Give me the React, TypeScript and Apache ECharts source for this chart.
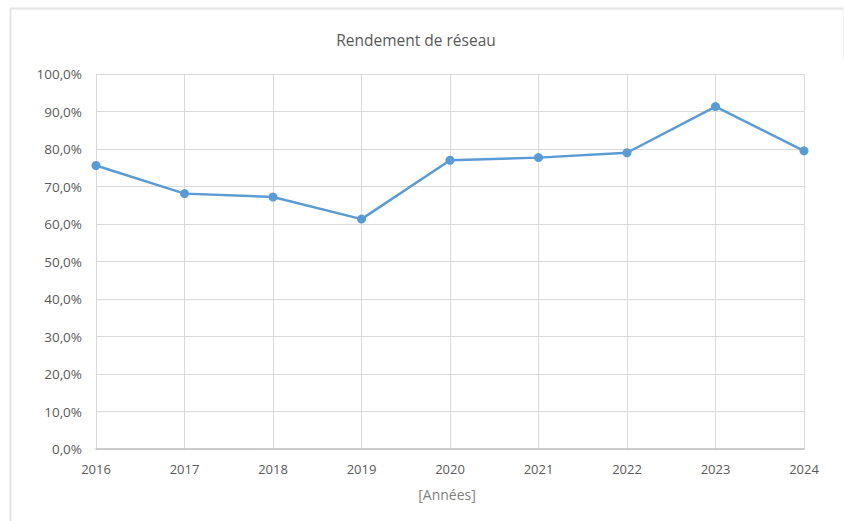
import React, { useEffect, useRef } from "react";
import * as echarts from "echarts";

const years = ["2016", "2017", "2018", "2019", "2020", "2021", "2022", "2023", "2024"];
const rendement = [75.6, 68.1, 67.2, 61.3, 77.0, 77.7, 79.0, 91.3, 79.5];
const titleText = "Rendement de réseau";
const xAxisName = "[Années]";

const FONT = "'Open Sans', 'Liberation Sans', sans-serif";

export default function App() {
  const ref = useRef<HTMLDivElement>(null);
  useEffect(() => {
    if (!ref.current) return;
    const chart = echarts.init(ref.current, null, { renderer: "svg" });
    chart.setOption({
      animation: false,
      backgroundColor: "#ffffff",
      title: {
        text: titleText,
        left: 411,
        top: 27,
        textAlign: "center",
        textStyle: { fontFamily: FONT, fontSize: 15.5, fontWeight: "normal", color: "#595959" },
      },
      graphic: [
        { type: "line", shape: { x1: 10, y1: 8.5, x2: 844, y2: 8.5 }, style: { stroke: "#e3e3e3", lineWidth: 2 } },
        { type: "line", shape: { x1: 10.5, y1: 8, x2: 10.5, y2: 521 }, style: { stroke: "#e3e3e3", lineWidth: 2 } },
        { type: "line", shape: { x1: 843.5, y1: 8, x2: 843.5, y2: 60 }, style: { stroke: "#f0f0f0", lineWidth: 1 } },
        {
          type: "text",
          x: 447,
          y: 494,
          style: { text: xAxisName, fontFamily: FONT, fontSize: 14, fill: "#7f7f7f", align: "center", verticalAlign: "middle" },
        },
      ],
      grid: { left: 96, right: 40, top: 74, bottom: 72, containLabel: false },
      xAxis: {
        type: "category",
        data: years,
        boundaryGap: false,
        axisLine: { show: true, lineStyle: { color: "#bfbfbf", width: 1.5 } },
        axisTick: { show: false },
        axisLabel: { fontFamily: FONT, fontSize: 13, color: "#595959", margin: 13 },
        splitLine: { show: true, lineStyle: { color: "#d9d9d9", width: 1 } },
      },
      yAxis: {
        type: "value",
        min: 0,
        max: 100,
        interval: 10,
        axisLine: { show: false },
        axisTick: { show: false },
        axisLabel: {
          fontFamily: FONT,
          fontSize: 13.5,
          color: "#595959",
          margin: 14,
          formatter: (v: number) => v.toFixed(1).replace(".", ",") + "%",
        },
        splitLine: { show: true, lineStyle: { color: "#d9d9d9", width: 1 } },
      },
      series: [
        {
          type: "line",
          data: rendement,
          symbol: "circle",
          symbolSize: 9,
          lineStyle: { color: "#5b9bd5", width: 2.5 },
          itemStyle: { color: "#5b9bd5" },
        },
      ],
    });
    return () => chart.dispose();
  }, []);
  return <div ref={ref} style={{ width: 844, height: 521, position: "absolute", left: 0, top: 0 }} />;
}
